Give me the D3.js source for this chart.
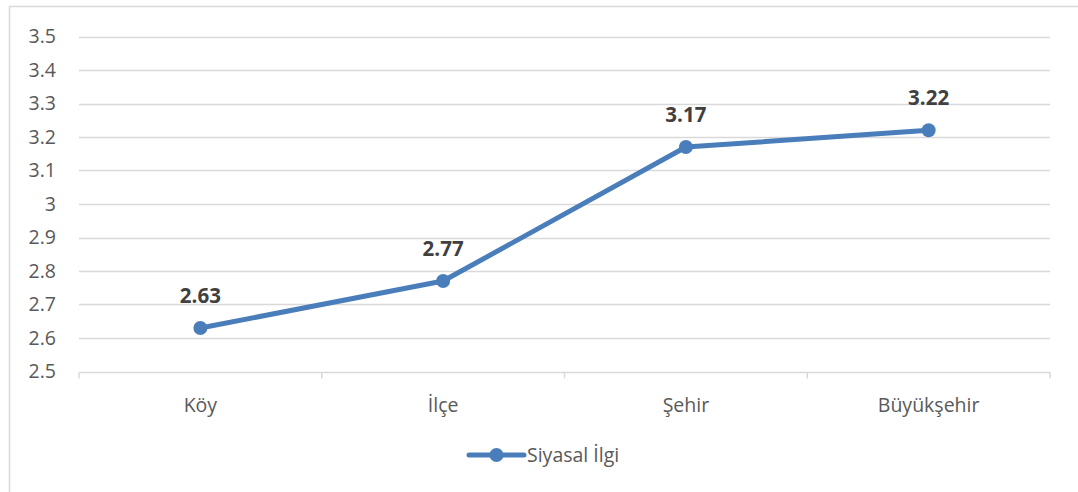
<!DOCTYPE html>
<html>
<head>
<meta charset="utf-8">
<script src="https://cdn.jsdelivr.net/npm/d3@7"></script>
<style>
  body { margin: 0; background: #fff; }
  svg { font-family: "Open Sans", "Noto Sans", sans-serif; }
</style>
</head>
<body>
<svg id="chart" width="1078" height="492"></svg>
<script>
// Siyasal İlgi by settlement type
const categories = ['Köy', 'İlçe', 'Şehir', 'Büyükşehir'];
const values = [2.63, 2.77, 3.17, 3.22];
const yTicks = [2.5, 2.6, 2.7, 2.8, 2.9, 3, 3.1, 3.2, 3.3, 3.4, 3.5];
const seriesName = 'Siyasal İlgi';

const LINE_COLOR = '#4a7ebb';
const svg = d3.select('#chart');

// chart frame
svg.append('rect').attr('x', 9.5).attr('y', 6.5).attr('width', 1100).attr('height', 520)
  .attr('fill', '#fff').attr('stroke', '#d9d9d9').attr('stroke-width', 1.5);

const x = d3.scaleBand().domain(categories).range([79, 1050]);
const y = d3.scaleLinear().domain([2.5, 3.5]).range([371.5, 36.5]);

// gridlines
svg.append('g').selectAll('line').data(yTicks.slice(1)).join('line')
  .attr('x1', 79).attr('x2', 1050)
  .attr('y1', d => Math.round(y(d)) + 0.5).attr('y2', d => Math.round(y(d)) + 0.5)
  .attr('stroke', '#d9d9d9').attr('stroke-width', 1.5);

// y tick labels
svg.append('g').selectAll('text').data(yTicks).join('text')
  .attr('x', 56).attr('y', d => y(d)).attr('dy', '0.35em')
  .attr('text-anchor', 'end').attr('fill', '#595959').attr('font-size', '19.5px')
  .text(d => d);

// x axis line + tick marks at category boundaries
const axisY = Math.round(y(2.5)) + 0.5;
svg.append('line').attr('x1', 79).attr('x2', 1050).attr('y1', axisY).attr('y2', axisY)
  .attr('stroke', '#d9d9d9').attr('stroke-width', 1.5);
const bounds = categories.map(c => x(c)).concat([x.range()[1]]);
svg.append('g').selectAll('line').data(bounds).join('line')
  .attr('x1', d => d).attr('x2', d => d).attr('y1', axisY).attr('y2', axisY + 6)
  .attr('stroke', '#d9d9d9').attr('stroke-width', 1.5);

// x labels
svg.append('g').selectAll('text').data(categories).join('text')
  .attr('x', d => x(d) + x.bandwidth() / 2).attr('y', 405).attr('dy', '0.35em')
  .attr('text-anchor', 'middle').attr('fill', '#595959').attr('font-size', '19.5px')
  .text(d => d);

// line
const pts = categories.map((c, i) => ({ c, v: values[i] }));
const line = d3.line().x(d => x(d.c) + x.bandwidth() / 2).y(d => y(d.v));
svg.append('path').datum(pts).attr('d', line)
  .attr('fill', 'none').attr('stroke', LINE_COLOR).attr('stroke-width', 5)
  .attr('stroke-linecap', 'round').attr('stroke-linejoin', 'round');

svg.append('g').selectAll('circle').data(pts).join('circle')
  .attr('cx', d => x(d.c) + x.bandwidth() / 2).attr('cy', d => y(d.v)).attr('r', 7)
  .attr('fill', LINE_COLOR);

// data labels
svg.append('g').selectAll('text').data(pts).join('text')
  .attr('x', d => x(d.c) + x.bandwidth() / 2).attr('y', d => y(d.v) - 32).attr('dy', '0.35em')
  .attr('text-anchor', 'middle').attr('fill', '#404040').attr('font-size', '20.5px')
  .attr('font-weight', 'bold').text(d => d.v.toFixed(2));

// legend
const lg = svg.append('g').attr('transform', 'translate(469,455)');
lg.append('line').attr('x1', 0).attr('x2', 55).attr('y1', 0).attr('y2', 0)
  .attr('stroke', LINE_COLOR).attr('stroke-width', 5).attr('stroke-linecap', 'round');
lg.append('circle').attr('cx', 27.5).attr('cy', 0).attr('r', 7).attr('fill', LINE_COLOR);
lg.append('text').attr('x', 58).attr('y', 0).attr('dy', '0.35em')
  .attr('fill', '#595959').attr('font-size', '19.5px').text(seriesName);
</script>
</body>
</html>
